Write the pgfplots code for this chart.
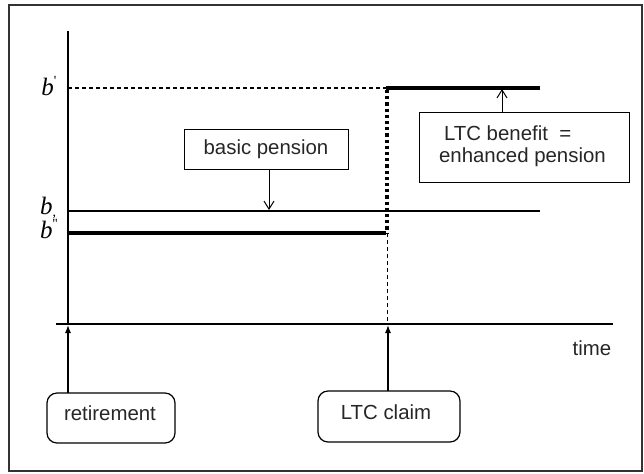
\documentclass[border=0pt]{standalone}
\usepackage{pgfplots}
\pgfplotsset{compat=1.18}
\usetikzlibrary{arrows.meta}
\usepackage{fontspec}
\setmainfont{Liberation Sans}
\newfontfamily\tnr{Liberation Serif}

\begin{document}
\begin{tikzpicture}
\begin{axis}[
    scale only axis,
    width=322pt, height=236.5pt,
    xmin=0, xmax=644, ymin=0, ymax=473,
    y dir=reverse,
    hide axis, clip=false,
]
% keep the whole page
\path (axis cs:0,0) rectangle (axis cs:644,473);
% outer frame
\draw[line width=0.6pt, black!80] (axis cs:9,5) rectangle (axis cs:642,471);

% axes of the sketch
\addplot[black, line width=0.6pt] coordinates {(68,31) (68,324)};
\addplot[black, line width=0.6pt] coordinates {(56,324) (613,324)};

% pension levels
\addplot[black, line width=0.6pt, dash pattern=on 2pt off 1.5pt] coordinates {(68,88) (386,88)};
\addplot[black, line width=2pt] coordinates {(386,88) (540,88)};
\addplot[black, line width=1pt] coordinates {(68,211) (540,211)};
\addplot[black, line width=2pt] coordinates {(68,233) (386,233)};
\addplot[black, line width=1.6pt, dash pattern=on 1.6pt off 1.5pt] coordinates {(387,90) (387,233)};
\addplot[black, line width=0.5pt, dash pattern=on 2pt off 1.5pt] coordinates {(387,233) (387,322)};

% level labels
\node[font=\tnr\itshape\fontsize{12.5}{14}\selectfont] at (axis cs:49,86) {b\raisebox{0.9ex}{\fontsize{7}{7}\selectfont\upshape'}};
\node[font=\tnr\itshape\fontsize{12.5}{14}\selectfont] at (axis cs:48,208) {b\raisebox{-0.2ex}{\fontsize{7}{7}\selectfont\upshape,}};
\node[font=\tnr\itshape\fontsize{12.5}{14}\selectfont] at (axis cs:49,229) {b\raisebox{0.9ex}{\fontsize{7}{7}\selectfont\upshape''}};

% basic pension box
\draw[line width=0.5pt] (axis cs:184,129) rectangle (axis cs:348,169);
\node[font=\fontsize{10.2}{12}\selectfont, text=black!85] at (axis cs:266,149) {basic pension};
\draw[line width=0.5pt, -{Straight Barb[length=4pt,width=5pt]}] (axis cs:269,169) -- (axis cs:269,210);

% LTC benefit box
\draw[line width=0.5pt] (axis cs:419,112) rectangle (axis cs:629,182);
\node[font=\fontsize{10.2}{12}\selectfont, text=black!85, anchor=west] at (axis cs:437,133) {LTC benefit\ \ =};
\node[font=\fontsize{10.2}{12}\selectfont, text=black!85, anchor=west] at (axis cs:432,157) {enhanced pension};
\draw[line width=0.5pt, -{Straight Barb[length=4pt,width=5pt]}] (axis cs:502,112) -- (axis cs:502,89);

% event boxes
\draw[line width=0.6pt, rounded corners=5pt] (axis cs:47,393) rectangle (axis cs:175,443);
\node[font=\fontsize{10.2}{12}\selectfont, text=black!85] at (axis cs:110,413) {retirement};
\draw[line width=0.6pt, -{Latex[length=4pt,width=3pt]}] (axis cs:68,393) -- (axis cs:68,325);

\draw[line width=0.6pt, rounded corners=5pt] (axis cs:318,391) rectangle (axis cs:460,442);
\node[font=\fontsize{10.2}{12}\selectfont, text=black!85] at (axis cs:386,412) {LTC claim};
\draw[line width=0.6pt, -{Latex[length=4pt,width=3pt]}] (axis cs:388,391) -- (axis cs:388,325);

\node[font=\fontsize{10.2}{12}\selectfont, text=black!85] at (axis cs:592,348) {time};
\end{axis}
\end{tikzpicture}
\end{document}
